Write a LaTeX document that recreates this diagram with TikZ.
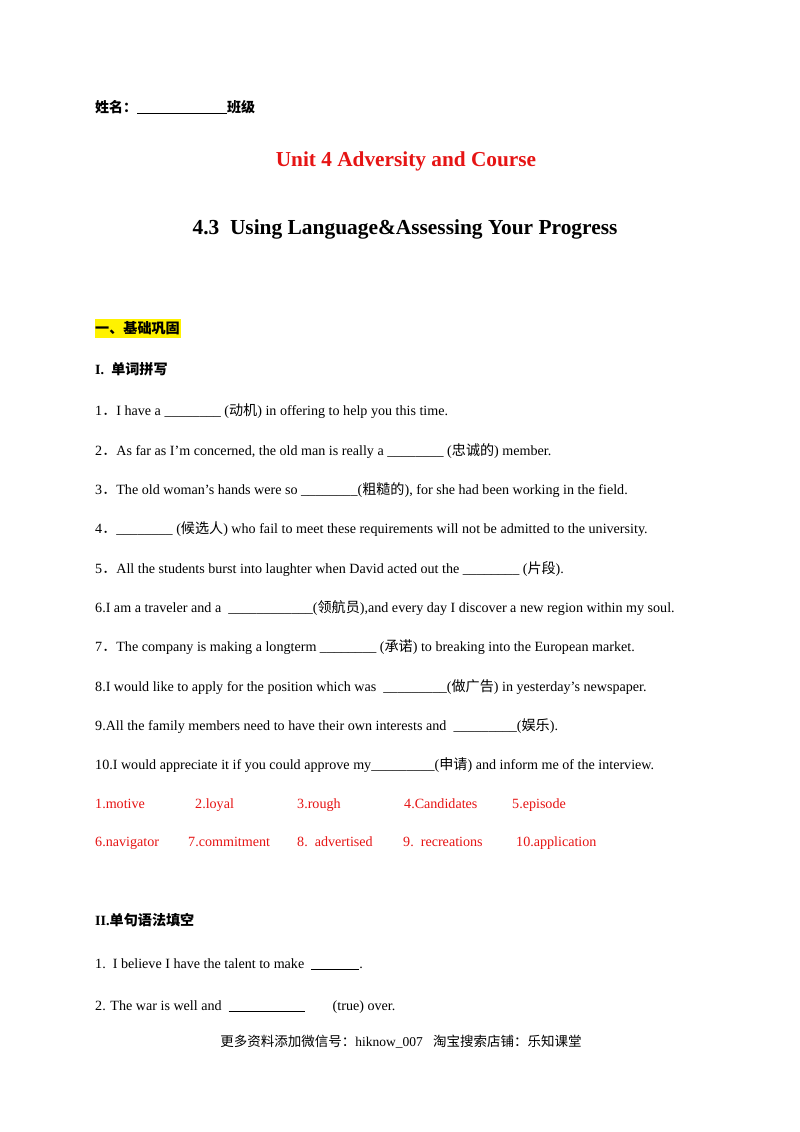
\documentclass[tikz,border=0pt]{standalone}
\usepackage{fontspec}
\setmainfont{Liberation Serif}
\newfontfamily\cjk{Noto Sans CJK SC}
\newcommand{\zh}[1]{{\cjk #1}}
\newcommand{\dt}{\zh{．}}
\begin{document}
\begin{tikzpicture}[x=1pt,y=-1pt,
  t/.style={anchor=base west,inner sep=0pt,font=\fontsize{14.1}{16}\selectfont},
  ans/.style={t,text={rgb,255:red,230;green,20;blue,20}}]
\useasboundingbox[fill=white] (0,0) rectangle (800,1132);
\node[t,font=\fontsize{14}{16}\selectfont\bfseries] (name) at (95,112) {\zh{\bfseries 姓名：}\underline{\hspace{90pt}}\zh{\bfseries 班级}};
\node[anchor=base,inner sep=0pt,font=\fontsize{21.3}{24}\selectfont\bfseries,text={rgb,255:red,230;green,20;blue,20}] (u) at (406,166) {Unit 4 Adversity and Course};
\node[anchor=base,inner sep=0pt,font=\fontsize{21.4}{24}\selectfont\bfseries] (s) at (405,234) {4.3\ \ Using Language\&Assessing Your Progress};
\fill[yellow] (95,319) rectangle (181,338);
\node[t] (h1) at (95,333) {\zh{\bfseries 一、基础巩固}};
\node[t] (h2) at (95,374) {\textbf{I.}\ \ \zh{\bfseries 单词拼写}};
\node[t] (l1) at (95,415) {1\dt I have a \_\_\_\_\_\_\_\_ (\zh{动机}) in offering to help you this time.};
\node[t] (l2) at (95,455) {2\dt As far as I'm concerned, the old man is really a \_\_\_\_\_\_\_\_ (\zh{忠诚的}) member.};
\node[t] (l3) at (95,494) {3\dt The old woman's hands were so \_\_\_\_\_\_\_\_(\zh{粗糙的}), for she had been working in the field.};
\node[t] (l4) at (95,533) {4\dt \_\_\_\_\_\_\_\_ (\zh{候选人}) who fail to meet these requirements will not be admitted to the university.};
\node[t] (l5) at (95,573) {5\dt All the students burst into laughter when David acted out the \_\_\_\_\_\_\_\_ (\zh{片段}).};
\node[t] (l6) at (95,612) {6.I am a traveler and a \ \_\_\_\_\_\_\_\_\_\_\_\_(\zh{领航员}),and every day I discover a new region within my soul.};
\node[t] (l7) at (95,651) {7\dt The company is making a longterm \_\_\_\_\_\_\_\_ (\zh{承诺}) to breaking into the European market.};
\node[t] (l8) at (95,691) {8.I would like to apply for the position which was \ \_\_\_\_\_\_\_\_\_(\zh{做广告}) in yesterday’s newspaper.};
\node[t] (l9) at (95,730) {9.All the family members need to have their own interests and \ \_\_\_\_\_\_\_\_\_(\zh{娱乐}).};
\node[t] (l10) at (95,769) {10.I would appreciate it if you could approve my\_\_\_\_\_\_\_\_\_(\zh{申请}) and inform me of the interview.};
\node[ans] (a1) at (95,808) {1.motive};
\node[ans] (a2) at (195,808) {2.loyal};
\node[ans] (a3) at (297,808) {3.rough};
\node[ans] (a4) at (404,808) {4.Candidates};
\node[ans] (a5) at (512,808) {5.episode};
\node[ans] (a6) at (95,846) {6.navigator};
\node[ans] (a7) at (188,846) {7.commitment};
\node[ans] (a8) at (297,846) {8.\ \ advertised};
\node[ans] (a9) at (403,846) {9.\ \ recreations};
\node[ans] (a10) at (516,846) {10.application};
\node[t] (h3) at (95,925) {\textbf{II.}\zh{\bfseries 单句语法填空}};
\node[t] (q1) at (95,968) {1.\ \ I believe I have the talent to make \ \underline{\hspace{48pt}}.};
\node[t] (q2) at (95,1010) {2. The war is well and \ \underline{\hspace{76pt}}\hspace{28pt}(true) over.};
\node[anchor=base,inner sep=0pt,font=\fontsize{13.5}{16}\selectfont] (f) at (401,1046) {\zh{更多资料添加微信号：}hiknow\_007\ \ \ \zh{淘宝搜索店铺：乐知课堂}};
\end{tikzpicture}
\end{document}
